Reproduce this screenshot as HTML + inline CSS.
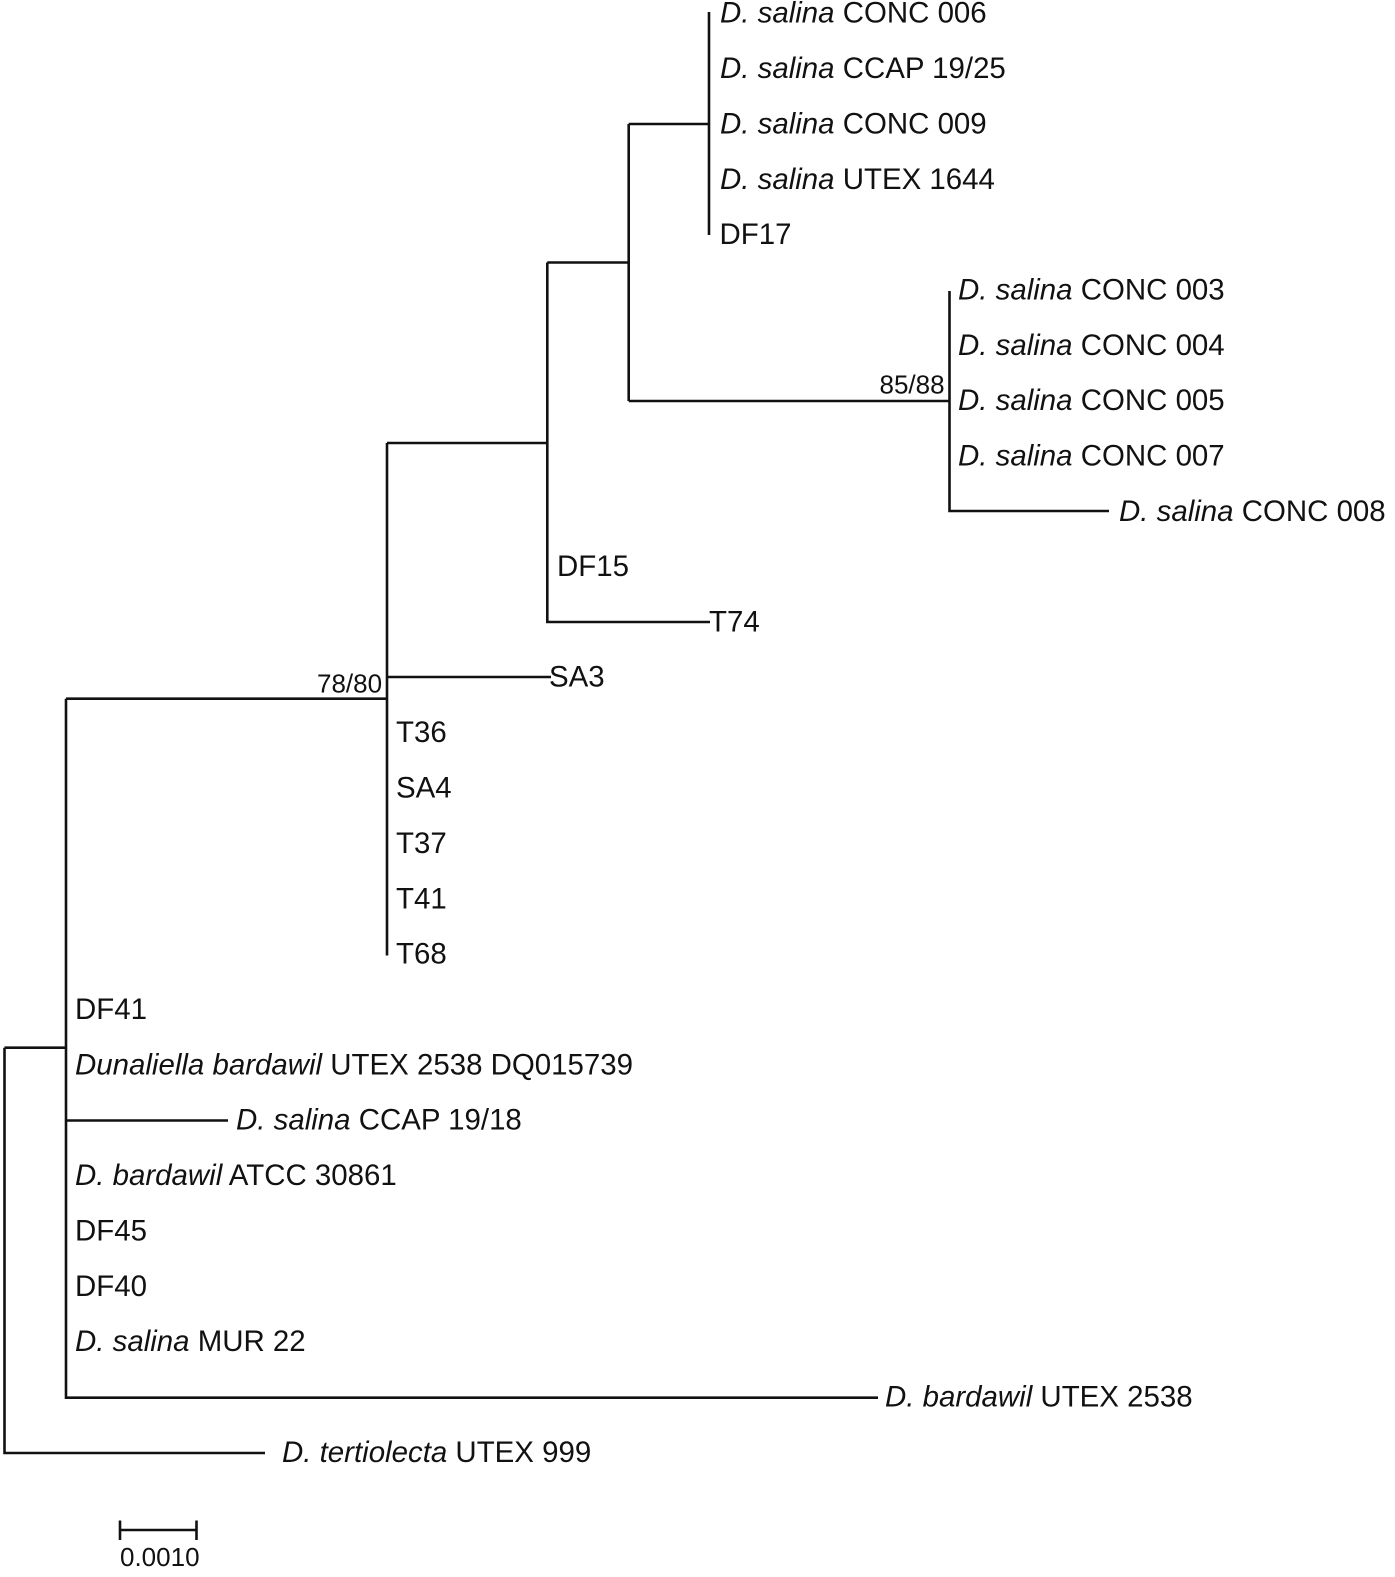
<!DOCTYPE html>
<html><head><meta charset="utf-8"><style>
html,body{margin:0;padding:0;background:#fff;width:1395px;height:1577px;overflow:hidden}
svg{display:block}
text{font-family:"Liberation Sans",sans-serif;font-size:29.45px;fill:#111}
.i{font-style:italic}
.s{font-size:26px}
path{fill:none;stroke:#111;stroke-width:2.6}
</style></head><body>
<svg width="1395" height="1577" viewBox="0 0 1395 1577" xmlns="http://www.w3.org/2000/svg">
<path d="M709 12V235M709 124H628.7M628.7 124V401M628.7 262.5H547.3M547.3 262.5V622H710M547.3 443H387M387 443V955.5M387 677H551M387 698.7H66M66 698.7V1397.7H878M66 1120.5H228M66 1047.7H4.5M4.5 1047.7V1453H265M628.7 401H949.5M949.5 291V511H1109M120 1530H196.5M120 1520.5V1540M196.5 1520.5V1540"/>
<text x="720" y="22.7"><tspan class="i">D. salina</tspan> CONC 006</text>
<text x="720" y="78"><tspan class="i">D. salina</tspan> CCAP 19/25</text>
<text x="720" y="133.4"><tspan class="i">D. salina</tspan> CONC 009</text>
<text x="720" y="188.8"><tspan class="i">D. salina</tspan> UTEX 1644</text>
<text x="719.5" y="244.1">DF17</text>
<text x="958" y="299.5"><tspan class="i">D. salina</tspan> CONC 003</text>
<text x="958" y="354.8"><tspan class="i">D. salina</tspan> CONC 004</text>
<text x="958" y="410.2"><tspan class="i">D. salina</tspan> CONC 005</text>
<text x="958" y="465.5"><tspan class="i">D. salina</tspan> CONC 007</text>
<text x="1119" y="520.9"><tspan class="i">D. salina</tspan> CONC 008</text>
<text x="557" y="576.2">DF15</text>
<text x="709" y="631.6">T74</text>
<text x="549" y="686.4">SA3</text>
<text x="396" y="741.8">T36</text>
<text x="396" y="797.6">SA4</text>
<text x="396" y="853">T37</text>
<text x="396" y="908.3">T41</text>
<text x="396" y="963.7">T68</text>
<text x="75" y="1019">DF41</text>
<text x="75" y="1074.4"><tspan class="i">Dunaliella bardawil</tspan> UTEX 2538 DQ015739</text>
<text x="236" y="1129.7"><tspan class="i">D. salina</tspan> CCAP 19/18</text>
<text x="75" y="1185.1"><tspan class="i">D. bardawil</tspan> ATCC 30861</text>
<text x="75" y="1240.4">DF45</text>
<text x="75" y="1295.8">DF40</text>
<text x="75" y="1351.1"><tspan class="i">D. salina</tspan> MUR 22</text>
<text x="885" y="1406.5"><tspan class="i">D. bardawil</tspan> UTEX 2538</text>
<text x="282" y="1461.8"><tspan class="i">D. tertiolecta</tspan> UTEX 999</text>
<text class="s" x="879.5" y="393.5">85/88</text>
<text class="s" x="317" y="692.7">78/80</text>
<text class="s" x="120" y="1566">0.0010</text>
</svg>
</body></html>
